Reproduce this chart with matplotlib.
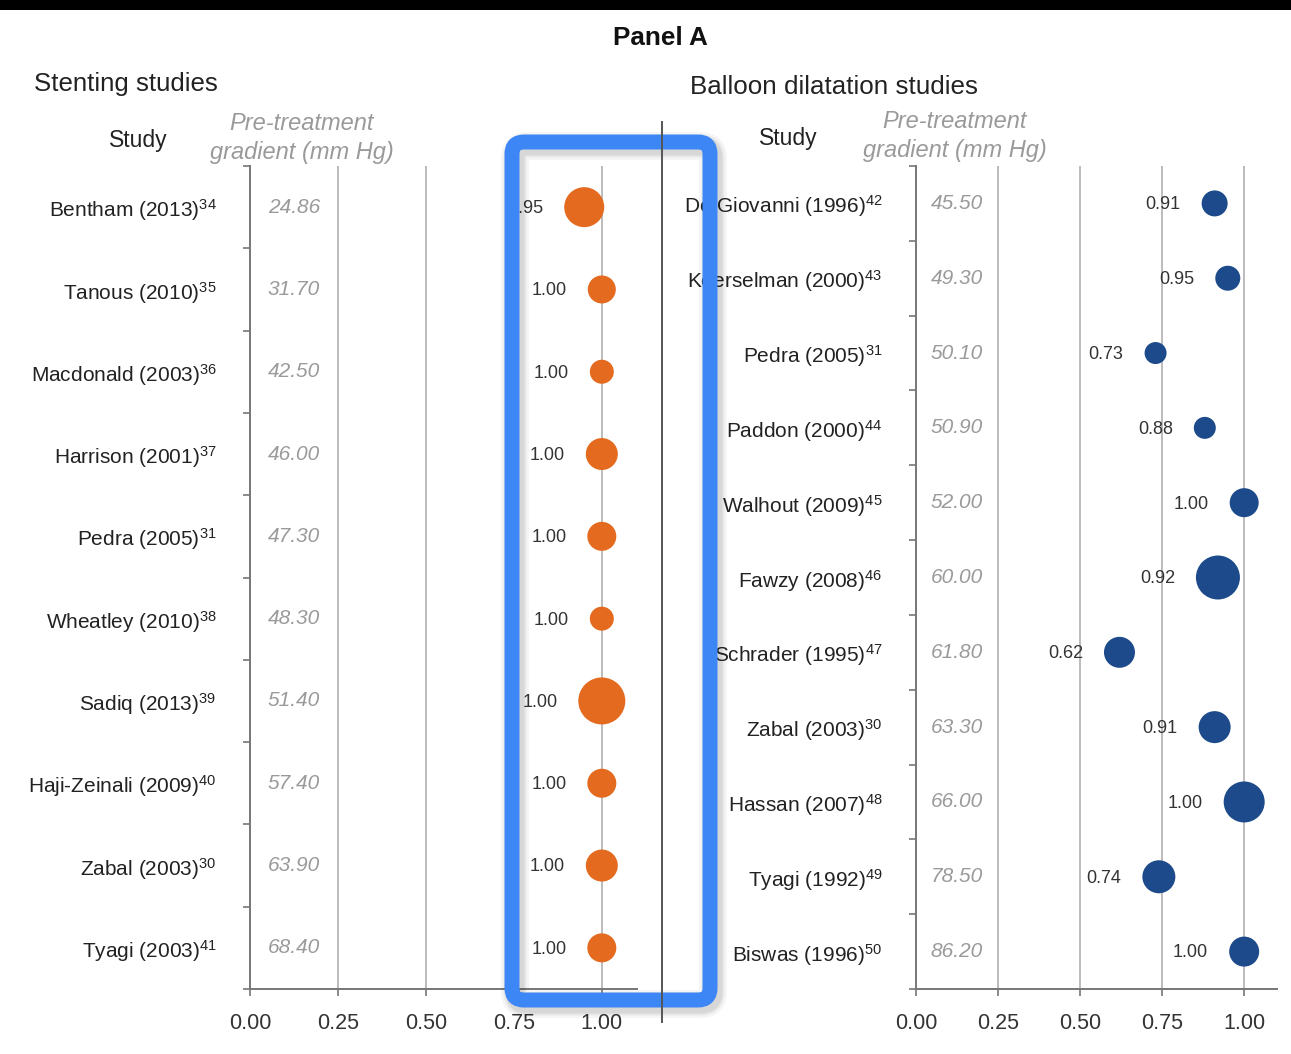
import numpy as np
import matplotlib.pyplot as plt
from matplotlib.patches import FancyBboxPatch, Rectangle

plt.rcParams['font.family'] = ['Liberation Sans', 'DejaVu Sans']
plt.rcParams['mathtext.fontset'] = 'custom'
plt.rcParams['mathtext.rm'] = 'Liberation Sans'
plt.rcParams['mathtext.it'] = 'Liberation Sans:italic'
plt.rcParams['mathtext.bf'] = 'Liberation Sans:bold'

# stenting studies
stent_studies = ['Bentham (2013)', 'Tanous (2010)', 'Macdonald (2003)', 'Harrison (2001)',
                 'Pedra (2005)', 'Wheatley (2010)', 'Sadiq (2013)', 'Haji-Zeinali (2009)',
                 'Zabal (2003)', 'Tyagi (2003)']
stent_refs = ['34', '35', '36', '37', '31', '38', '39', '40', '30', '41']
stent_gradient = [24.86, 31.70, 42.50, 46.00, 47.30, 48.30, 51.40, 57.40, 63.90, 68.40]
stent_success = [0.95, 1.00, 1.00, 1.00, 1.00, 1.00, 1.00, 1.00, 1.00, 1.00]

# balloon dilatation studies
balloon_studies = ['De Giovanni (1996)', 'Koerselman (2000)', 'Pedra (2005)', 'Paddon (2000)',
                   'Walhout (2009)', 'Fawzy (2008)', 'Schrader (1995)', 'Zabal (2003)',
                   'Hassan (2007)', 'Tyagi (1992)', 'Biswas (1996)']
balloon_refs = ['42', '43', '31', '44', '45', '46', '47', '30', '48', '49', '50']
balloon_gradient = [45.50, 49.30, 50.10, 50.90, 52.00, 60.00, 61.80, 63.30, 66.00, 78.50, 86.20]
balloon_success = [0.91, 0.95, 0.73, 0.88, 1.00, 0.92, 0.62, 0.91, 1.00, 0.74, 1.00]

xticks = [0.0, 0.25, 0.5, 0.75, 1.0]

# bubble radius in pixels (study weight)
stent_radius = [20, 14, 12, 16, 14.5, 12, 23.5, 14.5, 16, 14.5]
balloon_radius = [13, 12.5, 11, 11, 14.5, 22, 15.5, 16, 20.5, 16.5, 15]

W, H = 1291, 1054
fig = plt.figure(figsize=(W / 100, H / 100), dpi=100)
fig.patch.set_facecolor('white')


def px_axes(x0, y0, x1, y1):
    return fig.add_axes([x0 / W, 1 - y1 / H, (x1 - x0) / W, (y1 - y0) / H])


def forest(ax, studies, refs, gradient, success, radius, color):
    n = len(studies)
    y = np.arange(n)
    ax.set_xlim(0, 1.1)
    ax.set_ylim(n - 0.5, -0.5)
    for g in xticks[1:]:
        ax.axvline(g, color='#bcbcbc', lw=1.4, zorder=0)
    sizes = [(2 * r * 0.72) ** 2 for r in radius]
    ax.scatter(success, y, s=sizes, color=color, linewidths=0, zorder=3)
    for yi, v, r in zip(y, success, radius):
        ax.annotate(f'{v:.2f}', (v, yi), xytext=(-(r + 21) * 0.72, -1),
                    textcoords='offset points', ha='right', va='center',
                    fontsize=13, color='#333333')
    for yi, g in zip(y, gradient):
        ax.text(0.125, yi, f'{g:.2f}', ha='center', va='center', fontsize=15,
                style='italic', color='#9a9a9a')
    ax.set_yticks(y)
    ax.set_yticklabels([f'{s}$^{{{r}}}$' for s, r in zip(studies, refs)],
                       fontsize=15, color='#222222')
    for lab in ax.get_yticklabels():
        lab.set_verticalalignment('center_baseline')
    ax.set_yticks(np.arange(n + 1) - 0.5, minor=True)
    ax.tick_params(axis='y', which='major', length=0, pad=24)
    ax.tick_params(axis='y', which='minor', length=5, width=1.2, color='#777777', direction='out')
    ax.set_xticks(xticks)
    ax.set_xticklabels([f'{t:.2f}' for t in xticks], fontsize=15.5, color='#333333')
    ax.tick_params(axis='x', length=5, width=1.2, color='#777777', pad=12)
    for side in ['top', 'right']:
        ax.spines[side].set_visible(False)
    for side in ['left', 'bottom']:
        ax.spines[side].set_color('#777777')
        ax.spines[side].set_linewidth(1.4)
    ax.set_facecolor('none')


ax1 = px_axes(250, 166, 637, 989)
forest(ax1, stent_studies, stent_refs, stent_gradient, stent_success, stent_radius, '#e36a1e')
ax2 = px_axes(916, 166, 1277, 989)
forest(ax2, balloon_studies, balloon_refs, balloon_gradient, balloon_success, balloon_radius, '#1c4a8a')

# overlay in pixel coordinates for headers, divider and highlight box
ov = fig.add_axes([0, 0, 1, 1])
ov.set_xlim(0, W)
ov.set_ylim(H, 0)
ov.axis('off')
ov.set_zorder(10)
ov.patch.set_alpha(0)

ov.add_patch(Rectangle((0, 0), W, 10, color='black', lw=0))
ov.text(660, 38, 'Panel A', ha='center', va='center', fontsize=18.8, fontweight='bold', color='#111111')
ov.text(34, 84, 'Stenting studies', ha='left', va='center', fontsize=18.6, color='#222222')
ov.text(690, 87, 'Balloon dilatation studies', ha='left', va='center', fontsize=18.7, color='#222222')
ov.text(138, 141, 'Study', ha='center', va='center', fontsize=16.5, color='#222222')
ov.text(302, 138, 'Pre-treatment\ngradient (mm Hg)', ha='center', va='center', fontsize=17,
        style='italic', color='#9a9a9a', linespacing=1.3)
ov.text(788, 138, 'Study', ha='center', va='center', fontsize=16.5, color='#222222')
ov.text(955, 136, 'Pre-treatment\ngradient (mm Hg)', ha='center', va='center', fontsize=17,
        style='italic', color='#9a9a9a', linespacing=1.3)

ov.plot([662, 662], [122, 1022], color='#555555', lw=1.4)

# soft shadow then the highlight frame
for lw, a in [(28, 0.04), (23, 0.05), (19, 0.07)]:
    ov.add_patch(FancyBboxPatch((515, 146), 198, 858, boxstyle='round,pad=0,rounding_size=12',
                                fill=False, ec='black', lw=lw * 0.72, alpha=a))
ov.add_patch(FancyBboxPatch((512, 142), 198, 858, boxstyle='round,pad=0,rounding_size=12',
                            fill=False, ec='#3d86f5', lw=15 * 0.72))

fig.savefig('out.png', dpi=100)
